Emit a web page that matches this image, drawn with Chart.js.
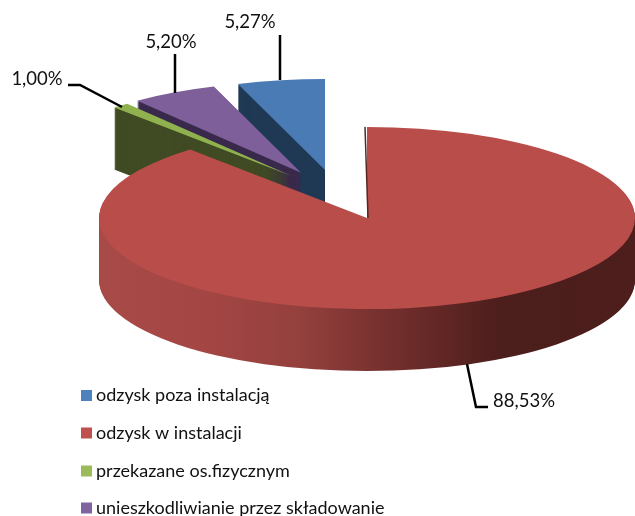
<!DOCTYPE html>
<html><head><meta charset="utf-8">
<style>html,body{margin:0;padding:0;background:#fff;overflow:hidden}canvas{display:block}</style>
<script src="https://cdn.jsdelivr.net/npm/chart.js@4"></script>
</head><body>
<div style="width:635px;height:516px"><canvas id="c" width="635" height="516"></canvas></div>
<script>
const categories = ['odzysk poza instalacją','odzysk w instalacji','przekazane os.fizycznym','unieszkodliwianie przez składowanie'];
const values = [5.27, 88.53, 1.00, 5.20];
const valueLabels = ['5,27%','88,53%','1,00%','5,20%'];
const topColors = ['#4a7bb5','#b84d4a','#8fb24f','#7e5f9a'];
const legendColors = ['#4f81bd','#c0504d','#9bbb59','#8064a2'];
const wallColors = ['#1f3854','#000','#404b24','#3a2a4c'];
const redWallStops = [[0,'#a84a48'],[0.19,'#a44644'],[0.375,'#94403d'],[0.55,'#722e2c'],[0.75,'#4c1e1c'],[1,'#4d1e1b']];

const SQUASH = 0.34, DEPTH = 62;
const explodeX = [-42, 0, -76, -66];
const explodeY = [-141, 0, -124, -133];
const drawOrder = [0, 3, 2, 1];
const leaderLines = [
  [[280,80],[280,35]],
  [[467,364],[476,407],[488,407]],
  [[122,107],[80,85],[68,85]],
  [[175,93],[175,54]]
];
const labelPos = [[250,22],[524,401],[37,79],[171,42]];
const legendRows = [395.5,433,471,508];

function place(ctx, el, i, dy){
  ctx.translate(el.x, el.y + dy);
  ctx.scale(1, SQUASH);
  ctx.translate(explodeX[i], explodeY[i]);
  ctx.translate(-el.x, -el.y);
}
const pie3d = {
  id:'pie3d',
  beforeDatasetDraw(chart, args){
    const ctx = chart.ctx, arcs = args.meta.data;
    for (const i of drawOrder){
      const el = arcs[i];
      let fill = wallColors[i];
      if (i === 1){
        const g = ctx.createLinearGradient(el.x - el.outerRadius, 0, el.x + el.outerRadius, 0);
        redWallStops.forEach(s => g.addColorStop(s[0], s[1]));
        fill = g;
      }
      for (let k = DEPTH; k >= 1; k--){
        ctx.save();
        place(ctx, el, i, k);
        ctx.beginPath();
        ctx.moveTo(el.x, el.y);
        ctx.arc(el.x, el.y, el.outerRadius, el.startAngle, el.endAngle);
        ctx.closePath();
        ctx.fillStyle = fill;
        ctx.fill();
        ctx.restore();
      }
      ctx.save();
      place(ctx, el, i, 0);
      el.draw(ctx);
      ctx.restore();
      if (i === 1){
        ctx.save();
        ctx.strokeStyle = '#5a2624';
        ctx.lineWidth = 1.5;
        ctx.beginPath();
        ctx.moveTo(el.x + 1, el.y);
        ctx.lineTo(el.x - 2, el.y - el.outerRadius * SQUASH);
        ctx.stroke();
        ctx.restore();
      }
    }
    return false;
  },
  afterDatasetsDraw(chart){
    const ctx = chart.ctx;
    ctx.save();
    ctx.strokeStyle = '#000';
    ctx.lineWidth = 2.5;
    leaderLines.forEach(pts => {
      ctx.beginPath();
      pts.forEach((p, j) => j ? ctx.lineTo(p[0], p[1]) : ctx.moveTo(p[0], p[1]));
      ctx.stroke();
    });
    ctx.fillStyle = '#111';
    ctx.textBaseline = 'middle';
    ctx.font = '18.5px Lato';
    ctx.textAlign = 'center';
    valueLabels.forEach((t, i) => ctx.fillText(t, labelPos[i][0], labelPos[i][1]));
    ctx.font = '18px Lato';
    ctx.textAlign = 'left';
    categories.forEach((t, i) => {
      ctx.fillStyle = legendColors[i];
      ctx.fillRect(81, legendRows[i] - 5.5, 11, 11);
      ctx.fillStyle = '#111';
      ctx.fillText(t, 96, legendRows[i]);
    });
    ctx.restore();
  }
};
new Chart(document.getElementById('c'), {
  type:'pie',
  data:{labels:categories, datasets:[{data:values, backgroundColor:topColors, borderWidth:0}]},
  options:{
    responsive:false, animation:false, rotation:-values[0]*3.6, radius:268,
    layout:{padding:{left:99,right:0,top:0,bottom:80}},
    plugins:{legend:{display:false},tooltip:{enabled:false}},
    events:[]
  },
  plugins:[pie3d]
});
</script>
</body></html>
